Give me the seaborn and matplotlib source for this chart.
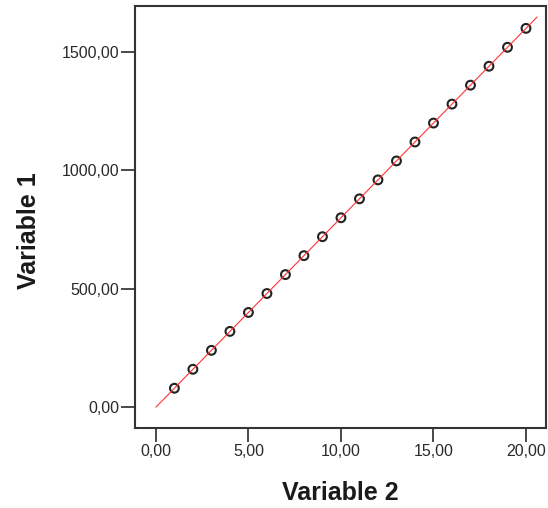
import numpy as np
import pandas as pd
import matplotlib
matplotlib.use("Agg")
import matplotlib.pyplot as plt
import seaborn as sns
from matplotlib.ticker import FuncFormatter

var2 = [1, 2, 3, 4, 5, 6, 7, 8, 9, 10, 11, 12, 13, 14, 15, 16, 17, 18, 19, 20]
var1 = [80, 160, 240, 320, 400, 480, 560, 640, 720, 800,
        880, 960, 1040, 1120, 1200, 1280, 1360, 1440, 1520, 1600]
fit_range = [0, 20.6]

df = pd.DataFrame({"Variable 2": var2, "Variable 1": var1})

# fitted line through origin
slope = np.sum(np.array(var2) * np.array(var1)) / np.sum(np.array(var2) ** 2)
fit_df = pd.DataFrame({"x": fit_range, "y": [slope * v for v in fit_range]})

sns.set_style("ticks")
plt.rcParams['font.family'] = ['Liberation Sans', 'DejaVu Sans']

fig = plt.figure(figsize=(5.48, 5.08), dpi=100)
ax = fig.add_axes([0.246, 0.157, 0.751, 0.831])

sns.lineplot(data=fit_df, x="x", y="y", color="#ff3333", linewidth=0.8, ax=ax)
sns.scatterplot(data=df, x="Variable 2", y="Variable 1", s=40, facecolors="none",
                edgecolor="#222222", linewidth=1.5, ax=ax)

ax.set_xlim(-1.14, 21.1)
ax.set_ylim(-89, 1694)
ax.set_xticks([0, 5, 10, 15, 20])
ax.set_yticks([0, 500, 1000, 1500])
fmt = FuncFormatter(lambda v, p: f"{v:.2f}".replace(".", ","))
ax.xaxis.set_major_formatter(fmt)
ax.yaxis.set_major_formatter(fmt)
ax.tick_params(direction="out", length=10, width=1.2, labelsize=11.5,
               colors="#2a2a2a", pad=1)
for sp in ax.spines.values():
    sp.set_visible(True)
    sp.set_linewidth(1.5)
    sp.set_color("#333333")

ax.set_xlabel("Variable 2", fontsize=18, fontweight="bold", color="#1a1a1a")
ax.set_ylabel("Variable 1", fontsize=18, fontweight="bold", color="#1a1a1a")
ax.xaxis.set_label_coords(0.5, -0.126)
ax.yaxis.set_label_coords(-0.228, 0.467)

plt.savefig("out.png", dpi=100)
plt.close()
